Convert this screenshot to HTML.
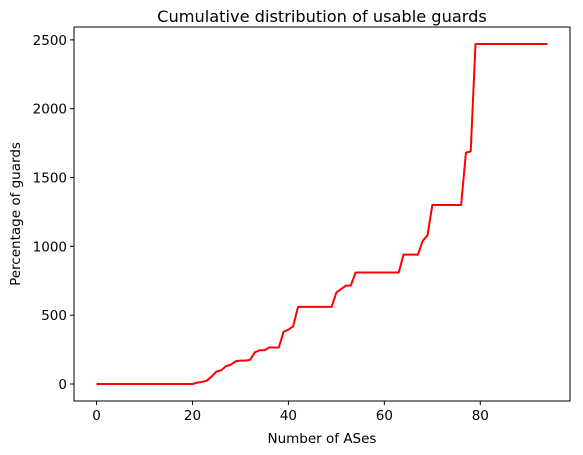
<!DOCTYPE html>
<html><head><meta charset="utf-8">
<style>
html,body{margin:0;padding:0;background:#fff;}
svg{display:block;font-family:"DejaVu Sans","Liberation Sans",sans-serif;}
</style></head>
<body>
<svg id="chart" width="583" height="455" viewBox="0 0 583 455">
  <rect width="583" height="455" fill="#fff"/>
  <text x="322" y="22" font-size="16.2" text-anchor="middle" fill="#000">Cumulative distribution of usable guards</text>
  <g id="plot"></g>
  <rect x="74" y="27" width="496" height="374" fill="none" stroke="#000" stroke-width="1"/>
  <text x="322" y="443" font-size="13.5" text-anchor="middle" fill="#000">Number of ASes</text>
  <text x="0" y="0" font-size="13.5" text-anchor="middle" fill="#000" transform="translate(20,214) rotate(-90)">Percentage of guards</text>
</svg>
<script>
const xTicks = [0, 20, 40, 60, 80];
const yTicks = [0, 500, 1000, 1500, 2000, 2500];
const xValues = [];
for (let i = 0; i <= 94; i++) xValues.push(i);
const yValues = [
  0,0,0,0,0,0,0,0,0,0, 0,0,0,0,0,0,0,0,0,0, 0,
  10,15,25,55,90,100,130,140,165,170,
  170,175,230,245,245,265,265,265,380,395,
  420,560,560,560,560,560,560,560,560,665,
  690,715,715,810,810,810,810,810,810,810,
  810,810,810,940,940,940,940,1040,1080,1300,
  1300,1300,1300,1300,1300,1300,1680,1690,2470,2470,
  2470,2470,2470,2470,2470,2470,2470,2470,2470,2470,
  2470,2470,2470,2470
];

const L = 74, R = 570, T = 27, B = 401;
const xmin = -4.7, xmax = 98.7;
const ymin = -123.5, ymax = 2593.5;
function sx(v) { return L + (v - xmin) / (xmax - xmin) * (R - L); }
function sy(v) { return B - (v - ymin) / (ymax - ymin) * (B - T); }

const NS = 'http://www.w3.org/2000/svg';
const plot = document.getElementById('plot');

xTicks.forEach(t => {
  const x = sx(t);
  const ln = document.createElementNS(NS, 'line');
  ln.setAttribute('x1', x); ln.setAttribute('x2', x);
  ln.setAttribute('y1', B); ln.setAttribute('y2', B + 4);
  ln.setAttribute('stroke', '#000');
  
  
  plot.appendChild(ln);
  const tx = document.createElementNS(NS, 'text');
  tx.setAttribute('x', x); tx.setAttribute('y', B + 19);
  tx.setAttribute('font-size', '13.5'); tx.setAttribute('text-anchor', 'middle');
  tx.textContent = t;
  
  
  plot.appendChild(tx);
});

yTicks.forEach(t => {
  const y = sy(t);
  const ln = document.createElementNS(NS, 'line');
  ln.setAttribute('x1', L - 4); ln.setAttribute('x2', L);
  ln.setAttribute('y1', y); ln.setAttribute('y2', y);
  ln.setAttribute('stroke', '#000');
  
  
  plot.appendChild(ln);
  const tx = document.createElementNS(NS, 'text');
  tx.setAttribute('x', L - 7); tx.setAttribute('y', y + 5);
  tx.setAttribute('font-size', '13.5'); tx.setAttribute('text-anchor', 'end');
  tx.textContent = t;
  
  
  plot.appendChild(tx);
});

const pts = xValues.map((x, i) => sx(x).toFixed(2) + ',' + sy(yValues[i]).toFixed(2)).join(' ');
const pl = document.createElementNS(NS, 'polyline');
pl.setAttribute('points', pts);
pl.setAttribute('fill', 'none');
pl.setAttribute('stroke', '#ff0000');
pl.setAttribute('stroke-width', '2');
pl.setAttribute('stroke-linejoin', 'round');


plot.appendChild(pl);
</script>
</body></html>
